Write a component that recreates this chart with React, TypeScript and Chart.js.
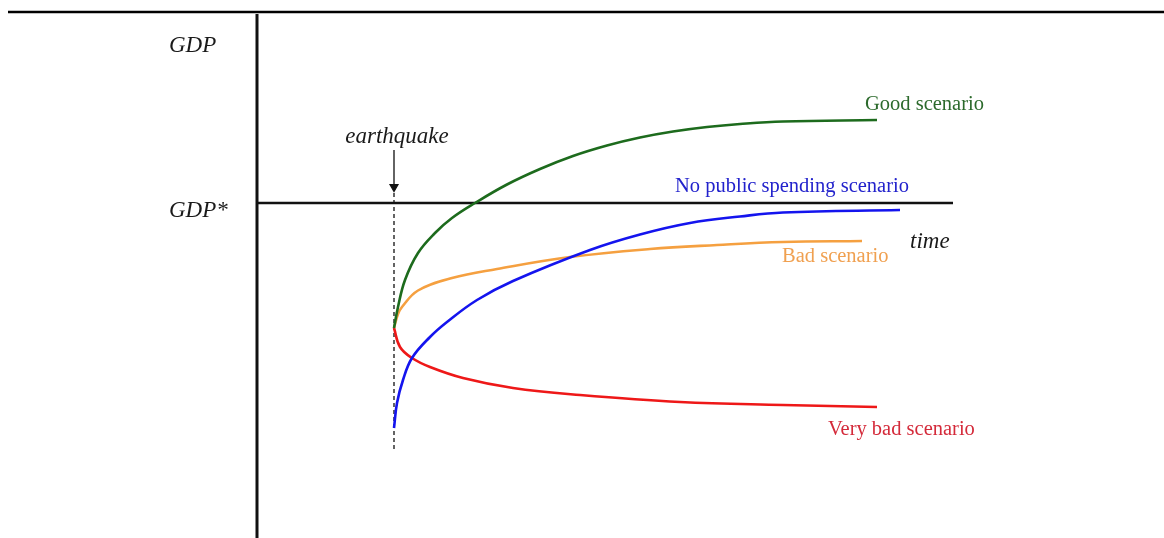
import React, { useEffect, useRef } from "react";
import { Chart, registerables } from "chart.js";
Chart.register(...registerables);

// Axis ranges (time units after the earthquake, GDP index with GDP* = 100)
const T_MIN = -2.74;
const T_MAX = 11.18;
const GDP_MIN = 33;
const GDP_MAX = 137.8;
const GDP_STAR = 100;
const EARTHQUAKE_T = 0;

const goodT = [0, 0.08, 0.22, 0.48, 0.82, 1.16, 1.62, 2.26, 2.92, 3.58, 4.26, 4.92, 5.58, 6.26, 6.92, 7.78, 9.66];
const goodGDP = [75, 79.2, 84.6, 90, 94, 97, 100, 103.7, 106.8, 109.4, 111.5, 113.1, 114.3, 115.2, 115.8, 116.3, 116.6];

const noSpendT = [0, 0.06, 0.18, 0.36, 0.72, 1.06, 1.66, 2.38, 3.92, 4.92, 5.92, 6.92, 7.78, 10.12];
const noSpendGDP = [55, 60, 64.6, 69, 73.2, 76.2, 80.6, 84.4, 90.6, 93.7, 96, 97.3, 98.1, 98.6];

const badT = [0, 0.08, 0.16, 0.48, 1.16, 2.06, 3.52, 5.12, 6.46, 7.78, 9.36];
const badGDP = [75, 77.8, 79.2, 82.5, 85, 86.8, 89.2, 90.8, 91.6, 92.2, 92.4];

const veryBadT = [0, 0.12, 0.36, 0.72, 1.38, 2.38, 3.72, 5.72, 7.78, 9.66];
const veryBadGDP = [75, 71.2, 69, 67.2, 65, 63, 61.6, 60.2, 59.6, 59.2];

const dashedGDP = [102, 50.2];
const arrowGDP = [110.6, 103.2];

const pts = (t: number[], v: number[]) => t.map((x, i) => ({ x, y: v[i] }));

const labelsPlugin = {
  id: "labels",
  afterDatasetsDraw(chart: any) {
    const ctx = chart.ctx;
    ctx.save();
    // top rule
    ctx.strokeStyle = "#000";
    ctx.lineWidth = 2.5;
    ctx.beginPath();
    ctx.moveTo(8, 12);
    ctx.lineTo(1164, 12);
    ctx.stroke();

    ctx.textBaseline = "alphabetic";
    ctx.textAlign = "left";
    const italic = 'italic 23px "Liberation Serif", "Times New Roman", serif';
    const normal = '20.5px "Liberation Serif", "Times New Roman", serif';
    ctx.font = italic;
    ctx.fillStyle = "#1a1a1a";
    ctx.fillText("GDP", 169, 52);
    ctx.fillText("GDP*", 169, 217);
    ctx.fillText("time", 910, 248);
    ctx.textAlign = "center";
    ctx.fillText("earthquake", 397, 143);
    ctx.textAlign = "left";
    ctx.font = normal;
    ctx.fillStyle = "#2c6a2c";
    ctx.fillText("Good scenario", 865, 110);
    ctx.fillStyle = "#2222cc";
    ctx.fillText("No public spending scenario", 675, 192);
    ctx.fillStyle = "#f0a050";
    ctx.fillText("Bad scenario", 782, 262);
    ctx.fillStyle = "#d42a3a";
    ctx.fillText("Very bad scenario", 828, 435);
    ctx.restore();
  },
};

export default function App() {
  const ref = useRef<HTMLCanvasElement>(null);
  useEffect(() => {
    if (!ref.current) return;
    const curve = (data: any, color: string) => ({
      data,
      borderColor: color,
      borderWidth: 2.6,
      pointRadius: 0,
      tension: 0.4,
      fill: false,
      clip: false as any,
    });
    const chart = new Chart(ref.current, {
      type: "line",
      data: {
        datasets: [
          curve(pts(goodT, goodGDP), "#1d6b1d"),
          curve(pts(noSpendT, noSpendGDP), "#1414ee"),
          curve(pts(badT, badGDP), "#f5a040"),
          curve(pts(veryBadT, veryBadGDP), "#ee1818"),
          {
            data: [
              { x: T_MIN, y: GDP_MIN },
              { x: T_MIN, y: GDP_MAX },
            ],
            borderColor: "#111",
            borderWidth: 3,
            pointRadius: 0,
            clip: false as any,
          },
          {
            data: [
              { x: T_MIN, y: GDP_STAR },
              { x: T_MAX, y: GDP_STAR },
            ],
            borderColor: "#111",
            borderWidth: 2.6,
            pointRadius: 0,
            clip: false as any,
          },
          {
            data: dashedGDP.map((y) => ({ x: EARTHQUAKE_T, y })),
            borderColor: "#111",
            borderWidth: 1.3,
            borderDash: [4, 3],
            pointRadius: 0,
            clip: false as any,
          },
          {
            data: arrowGDP.map((y) => ({ x: EARTHQUAKE_T, y })),
            borderColor: "#111",
            backgroundColor: "#111",
            borderWidth: 1.3,
            pointRadius: [0, 4.5],
            pointStyle: "triangle",
            pointRotation: 180,
            clip: false as any,
          },
        ],
      },
      options: {
        animation: false,
        responsive: false,
        layout: { autoPadding: false, padding: { left: 257, top: 14, right: 211, bottom: 0 } },
        plugins: { legend: { display: false }, tooltip: { enabled: false } },
        scales: {
          x: { type: "linear", min: T_MIN, max: T_MAX, display: false },
          y: { type: "linear", min: GDP_MIN, max: GDP_MAX, display: false },
        },
      },
      plugins: [labelsPlugin],
    });
    return () => chart.destroy();
  }, []);
  return (
    <canvas
      ref={ref}
      width={1164}
      height={538}
      style={{ position: "absolute", left: 0, top: 0, display: "block" }}
    />
  );
}
